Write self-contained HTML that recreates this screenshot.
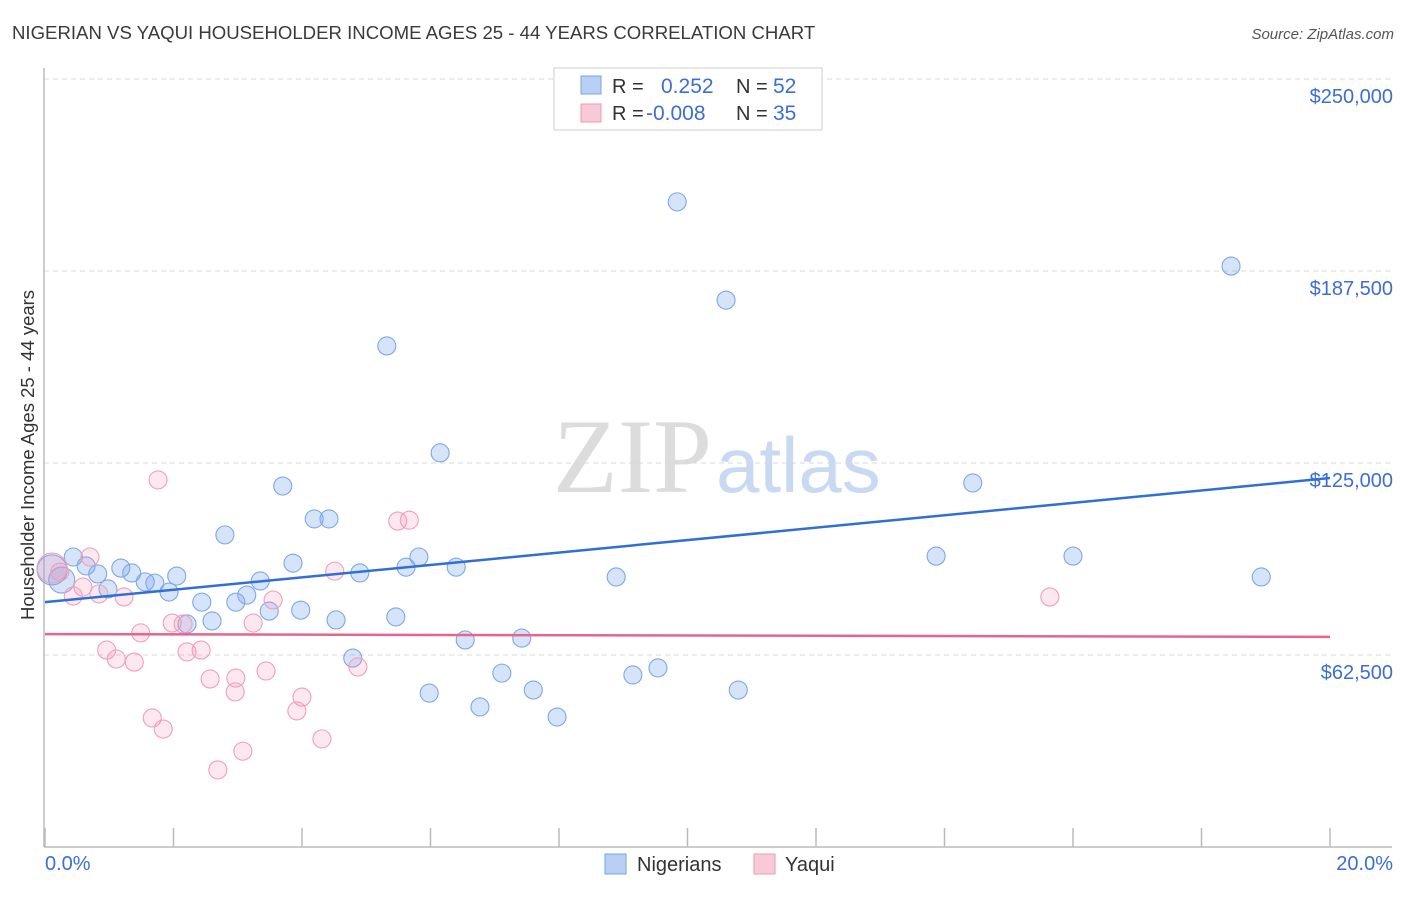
<!DOCTYPE html>
<html><head><meta charset="utf-8"><style>
body{margin:0;background:#fff;font-family:"Liberation Sans",sans-serif;}
svg text{font-family:"Liberation Sans",sans-serif;}
</style></head><body>
<svg id="chart" width="1406" height="892">
<text x="12" y="39" font-size="18.6" fill="#3a3a3a">NIGERIAN VS YAQUI HOUSEHOLDER INCOME AGES 25 - 44 YEARS CORRELATION CHART</text>
<text x="1394" y="39" font-size="15" fill="#555" font-style="italic" text-anchor="end">Source: ZipAtlas.com</text>
<g>
<text x="553" y="492" font-size="106" fill="#dcdcdc" style="font-family:'Liberation Serif',serif">ZIP</text>
<text x="716" y="492" font-size="78" fill="#c9d9f2">atlas</text>
</g>
<g id="grid"></g>
<g id="axes"></g>
<g id="marks"></g>
<text transform="translate(34,455) rotate(-90)" font-size="18.5" fill="#333" text-anchor="middle">Householder Income Ages 25 - 44 years</text>
<g>
<rect x="554" y="68" width="268" height="62" fill="#fff" stroke="#ccc"/>
<rect x="581" y="76" width="20" height="18" fill="#b7d0f3" stroke="#7aa4e6"/>
<rect x="581" y="104" width="20" height="18" fill="#f8c9d7" stroke="#ec9ab4"/>
<text x="612" y="93" font-size="20" fill="#333">R = </text><text x="661" y="93" font-size="21" fill="#3b6fd4">0.252</text>
<text x="736" y="93" font-size="20" fill="#333">N = </text><text x="773" y="93" font-size="21" fill="#3b6fd4">52</text>
<text x="612" y="120" font-size="20" fill="#333">R = </text><text x="646" y="120" font-size="21" fill="#3b6fd4">-0.008</text>
<text x="736" y="120" font-size="20" fill="#333">N = </text><text x="773" y="120" font-size="21" fill="#3b6fd4">35</text>
</g>
<g>
<rect x="605" y="854" width="21" height="20" fill="#b7d0f3" stroke="#7aa4e6"/>
<text x="637" y="871" font-size="20" fill="#333">Nigerians</text>
<rect x="754" y="854" width="21" height="20" fill="#f8c9d7" stroke="#ec9ab4"/>
<text x="785" y="871" font-size="20" fill="#333">Yaqui</text>
</g>
</svg>
<script>
const yTicks=[62500,125000,187500,250000];
const yTickLabels=["$62,500","$125,000","$187,500","$250,000"];
const xTickLabels=["0.0%","20.0%"];
const nigerianX=[0.11,0.26,0.44,0.64,0.82,0.98,1.18,1.35,1.56,1.71,1.93,2.05,2.21,2.44,2.60,2.80,2.97,3.14,3.35,3.49,3.70,3.86,3.98,4.19,4.42,4.53,4.79,4.90,5.32,5.46,5.62,5.82,5.98,6.15,6.40,6.54,6.77,7.11,7.42,7.60,7.97,8.89,9.15,9.54,9.84,10.60,10.79,13.87,14.44,16.00,18.46,18.93];
const nigerianY=[90200,86900,94400,91500,88900,84000,90800,89200,86300,85900,83000,88200,72600,79700,73600,101600,79700,82000,86600,76800,117500,92400,77100,106800,106800,73900,61500,89200,163100,74900,91100,94400,50100,128300,91100,67400,45600,56600,68000,51100,42300,87900,56000,58300,210000,178000,51100,94700,118500,94700,189100,87900];
const yaquiX=[0.11,0.23,0.70,0.59,0.44,0.84,1.23,1.76,1.49,0.96,1.11,1.39,1.98,2.15,2.21,2.43,1.67,1.84,2.57,2.97,2.96,3.44,3.24,3.55,2.69,3.08,4.00,3.92,4.31,4.51,4.87,5.49,5.67,15.64];
const yaquiY=[90800,89500,94400,84600,81700,82400,81400,119500,69700,64100,61200,60200,72900,72600,63500,64100,42000,38400,54700,55000,50500,57300,72900,80400,25100,31200,48800,44300,35200,89800,58600,106100,106400,81400];
const nigerianTrend=[79700,120100];
const yaquiTrend=[69300,68400];
const NS="http://www.w3.org/2000/svg";
const X0=45,X1=1330,Y0=847;
const xs=v=>X0+(v/20)*(X1-X0);
const ys=v=>Y0-v/62500*192;
function mk(tag,attrs,parent){const e=document.createElementNS(NS,tag);for(const k in attrs)e.setAttribute(k,attrs[k]);document.getElementById(parent).appendChild(e);return e;}
yTicks.forEach((t,i)=>{
 const l=mk('line',{x1:44,x2:1392,y1:ys(t),y2:ys(t),stroke:'#d8d8d8','stroke-dasharray':'5,4'},'grid');
 
 
 const tx=mk('text',{x:1393,y:ys(t)+24,'font-size':20,fill:'#3b6fd4','text-anchor':'end'},'axes');
 tx.textContent=yTickLabels[i];
 
 
});
const ax=mk('line',{x1:44,x2:44,y1:68,y2:847,stroke:'#bbb','stroke-width':1.5},'axes');


const bx=mk('line',{x1:44,x2:1392,y1:847,y2:847,stroke:'#bbb','stroke-width':1.5},'axes');


for(let i=0;i<=10;i++){
 const t=mk('line',{x1:xs(i*2),x2:xs(i*2),y1:828,y2:847,stroke:'#bbb','stroke-width':1.5},'axes');
 
 
}
const xl0=mk('text',{x:45,y:870,'font-size':20,fill:'#3b6fd4'},'axes');xl0.textContent=xTickLabels[0];


const xl1=mk('text',{x:1393,y:870,'font-size':20,fill:'#3b6fd4','text-anchor':'end'},'axes');xl1.textContent=xTickLabels[1];


function pts(X,Y,fill,stroke,name){
 X.forEach((x,i)=>{
  const r=i===0?15:(i===1&&name==='nigerian-point'?13:9);
  const c=mk('circle',{cx:xs(x),cy:ys(Y[i]),r:r,fill:fill,stroke:stroke,'stroke-width':1.1},'marks');
  
  
 });
}
pts(nigerianX,nigerianY,'rgba(120,165,235,0.3)','#7ea7e6','nigerian-point');
pts(yaquiX,yaquiY,'rgba(245,150,180,0.22)','#ef9fb9','yaqui-point');
const t1=mk('line',{x1:xs(0),x2:xs(20),y1:ys(nigerianTrend[0]),y2:ys(nigerianTrend[1]),stroke:'#2f6fd6','stroke-width':2.5},'marks');


const t2=mk('line',{x1:xs(0),x2:xs(20),y1:ys(yaquiTrend[0]),y2:ys(yaquiTrend[1]),stroke:'#e6648f','stroke-width':2.5},'marks');


</script>
</body></html>
